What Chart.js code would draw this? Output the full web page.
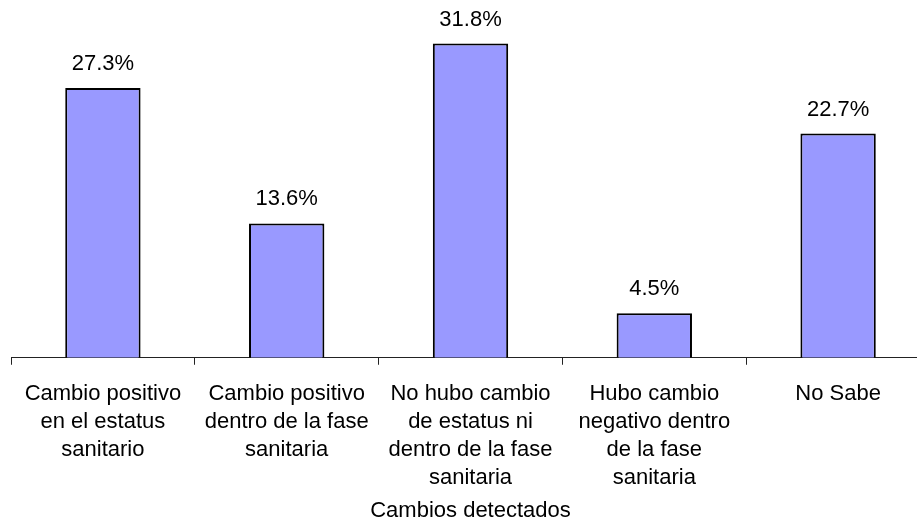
<!DOCTYPE html>
<html lang="es">
<head>
<meta charset="UTF-8">
<title>Cambios detectados</title>
<script src="https://cdn.jsdelivr.net/npm/chart.js"></script>
<style>
  html, body { margin: 0; padding: 0; background: #fff; overflow: hidden; }
  .wrap { width: 930px; height: 525px; }
</style>
</head>
<body>
<div class="wrap"><canvas id="chart"></canvas></div>
<script>
const categories = [
  ['Cambio positivo', 'en el estatus', 'sanitario'],
  ['Cambio positivo', 'dentro de la fase', 'sanitaria'],
  ['No hubo cambio', 'de estatus ni', 'dentro de la fase', 'sanitaria'],
  ['Hubo cambio', 'negativo dentro', 'de la fase', 'sanitaria'],
  ['No Sabe']
];
const values = [27.3, 13.6, 31.8, 4.5, 22.7];

const FONT = '"Liberation Sans", Arial, sans-serif';

// value labels above the bars
const barLabels = {
  id: 'barLabels',
  afterDatasetsDraw(chart) {
    const ctx = chart.ctx;
    const meta = chart.getDatasetMeta(0);
    ctx.save();
    ctx.font = '22px ' + FONT;
    ctx.fillStyle = '#000';
    ctx.textAlign = 'center';
    ctx.textBaseline = 'middle';
    meta.data.forEach((bar, i) => {
      ctx.fillText(values[i].toFixed(1) + '%', bar.x, bar.y - 24);
    });
    ctx.restore();
  }
};

new Chart(document.getElementById('chart'), {
  type: 'bar',
  data: {
    labels: categories,
    datasets: [{
      data: values,
      backgroundColor: '#9999FF',
      borderColor: '#000',
      borderWidth: 2,
      categoryPercentage: 0.41,
      barPercentage: 1
    }]
  },
  options: {
    responsive: true,
    maintainAspectRatio: false,
    animation: false,
    layout: { padding: { left: 11, right: 0, top: 12, bottom: 0 } },
    plugins: { legend: { display: false }, tooltip: { enabled: false } },
    scales: {
      y: { display: false, min: 0, max: 35 },
      x: {
        border: { display: true, color: '#222', width: 1 },
        grid: { offset: true, drawOnChartArea: false, drawTicks: true, tickLength: 7, color: '#222' },
        ticks: { color: '#000', font: { family: FONT, size: 22, lineHeight: 1.28 }, padding: 15, maxRotation: 0, autoSkip: false },
        title: { display: true, text: 'Cambios detectados', color: '#000', font: { family: FONT, size: 22, lineHeight: 1.3 }, padding: { top: -11, bottom: 0 } }
      }
    }
  },
  plugins: [barLabels]
});
</script>
</body>
</html>
